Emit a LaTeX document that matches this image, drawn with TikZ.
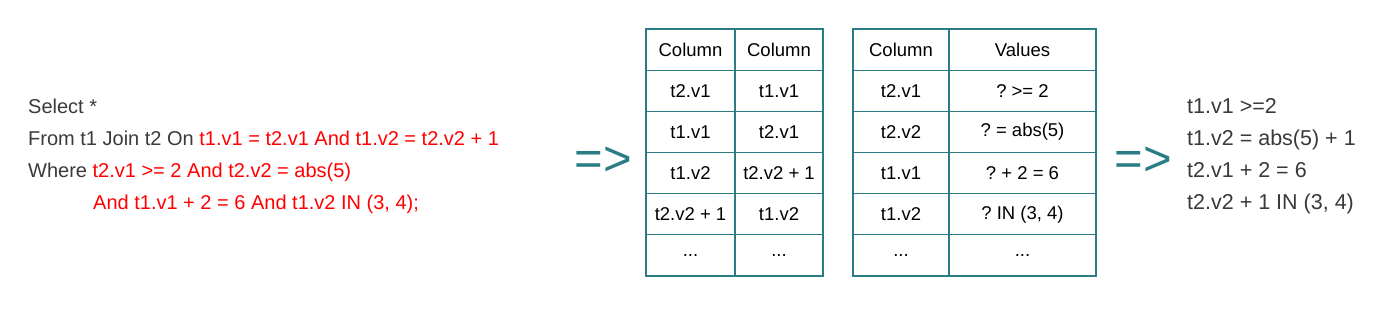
\documentclass[tikz,border=0pt]{standalone}
\usepackage{fontspec}
\setmainfont{Liberation Sans}
\definecolor{sqlgray}{HTML}{3A3A3A}
\definecolor{sqlred}{HTML}{FF0000}
\definecolor{teal2}{HTML}{2A7D84}
\newcommand{\mydots}{...}
\frenchspacing
\begin{document}
\begin{tikzpicture}[x=1pt,y=-1pt,
  codetext/.style={anchor=base west,inner sep=0pt,text=sqlgray,font=\fontsize{20}{24}\selectfont},
  restext/.style={anchor=base west,inner sep=0pt,text=sqlgray,font=\fontsize{21.5}{26}\selectfont},
  cell/.style={draw=teal2,line width=1.2pt,minimum height=41.17pt,inner sep=0pt,text=black,font=\fontsize{18.5}{22}\selectfont},
  arrowtext/.style={anchor=base,inner sep=0pt,text=teal2,font=\fontsize{49}{50}\selectfont}]
\useasboundingbox (0,0) rectangle (1400,309);
\fill[white] (0,0) rectangle (1400,309);
% left SQL text
\node[codetext] (l1) at (28,113) {Select *};
\node[codetext] (l2) at (28,145) {From t1 Join t2 On \textcolor{sqlred}{t1.v1 = t2.v1 And t1.v2 = t2.v2 + 1}};
\node[codetext] (l3) at (28,177) {Where \textcolor{sqlred}{t2.v1 >= 2 And t2.v2 = abs(5)}};
\node[codetext,text=sqlred] (l4) at (93,209) {And t1.v1 + 2 = 6 And t1.v2 IN (3, 4);};
% arrows
\node[arrowtext] (a1) at (603.5,175) {=>};
\node[arrowtext] (a2) at (1143.5,175) {=>};
% table 1
\foreach \r/\a/\b in {0/Column/Column,1/t2.v1/t1.v1,2/t1.v1/t2.v1,3/t1.v2/t2.v2 + 1,4/t2.v2 + 1/t1.v2,5/\mydots/\mydots}{
  \node[cell,minimum width=89pt] (ta\r) at (690.5,{49.6+41.17*\r}) {\a};
  \node[cell,minimum width=88pt] (tb\r) at (779,{49.6+41.17*\r}) {\b};
}
% table 2
\foreach \r/\a/\b in {0/Column/Values,1/t2.v1/? >= 2,2/t2.v2/? = abs(5),3/t1.v1/? + 2 = 6,4/t1.v2/{? IN (3, 4)},5/\mydots/\mydots}{
  \node[cell,minimum width=96pt] (tc\r) at (901,{49.6+41.17*\r}) {\a};
  \node[cell,minimum width=147pt] (td\r) at (1022.5,{49.6+41.17*\r}) {\b};
}
% result text
\node[restext] (r1) at (1187,113) {t1.v1 >=2};
\node[restext] (r2) at (1187,145) {t1.v2 = abs(5) + 1};
\node[restext] (r3) at (1187,177) {t2.v1 + 2 = 6};
\node[restext] (r4) at (1187,209) {t2.v2 + 1 IN (3, 4)};
\end{tikzpicture}
\end{document}
